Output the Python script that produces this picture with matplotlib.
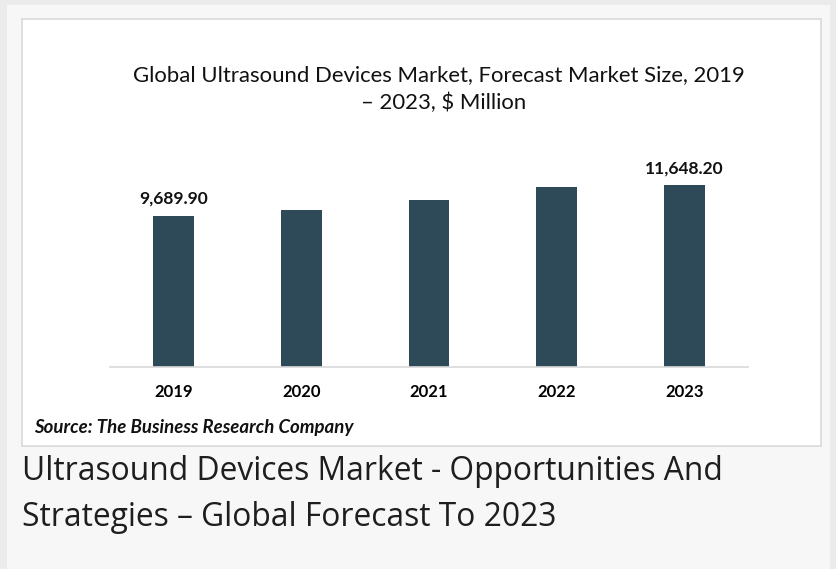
import matplotlib.pyplot as plt
from matplotlib.patches import Rectangle

# data ($ million)
years = ["2019", "2020", "2021", "2022", "2023"]
market_size = [9689.9, 10030.0, 10670.0, 11520.0, 11648.2]
labelled = {0: "9,689.90", 4: "11,648.20"}

W, H = 836, 569
DPI = 100
BAR_COLOR = "#2e4a59"
CHART_FONT = "Lato"
CAPTION_FONT = "Open Sans"


def fx(x):
    return x / W


def fy(y):
    return 1 - y / H


fig = plt.figure(figsize=(W / DPI, H / DPI), dpi=DPI)
fig.patch.set_facecolor("#ebebeb")

# page background and the white chart card
fig.patches.append(Rectangle((fx(7), fy(569)), fx(823), 564 / H,
                             transform=fig.transFigure, facecolor="#f7f7f7",
                             edgecolor="none", zorder=0))
fig.patches.append(Rectangle((fx(22), fy(446)), fx(799), 427 / H,
                             transform=fig.transFigure, facecolor="white",
                             edgecolor="#d9d9d9", linewidth=1.2, zorder=1))

# axes placed so that the baseline sits at y=367 px, 64 units per pixel
ymax = 14000
ax = fig.add_axes([fx(110), fy(367), fx(638), (ymax / 64) / H])
ax.set_zorder(3)
ax.set_facecolor("none")
ax.bar(range(len(years)), market_size, width=0.32, color=BAR_COLOR, zorder=2)
ax.set_xlim(-0.5, len(years) - 0.5)
ax.set_ylim(0, ymax)

for side in ["top", "right", "left"]:
    ax.spines[side].set_visible(False)
ax.spines["bottom"].set_color("#d9d9d9")
ax.spines["bottom"].set_linewidth(1.2)
ax.set_yticks([])
ax.set_xticks(range(len(years)))
ax.set_xticklabels(years, fontsize=12, fontweight="bold", family=CHART_FONT)
ax.tick_params(axis="x", length=0, pad=12)

for i, txt in labelled.items():
    ax.annotate(txt, (i, market_size[i]), xytext=(0, 12), textcoords="offset points",
                ha="center", va="center", fontsize=12.5, fontweight="bold",
                family=CHART_FONT, color="#111111")

# chart title, two centred lines as in the source
fig.text(fx(439), fy(75), "Global Ultrasound Devices Market, Forecast Market Size, 2019",
         ha="center", va="center", fontsize=15.9, family=CHART_FONT, color="#111111")
fig.text(fx(444), fy(103), "– 2023, $ Million",
         ha="center", va="center", fontsize=15.9, family=CHART_FONT, color="#111111")

fig.text(fx(34), fy(428), "Source: The Business Research Company", ha="left", va="center",
         fontsize=13.4, fontweight="bold", style="italic", family=CHART_FONT, color="#111111")

# caption under the card
fig.text(fx(22), fy(472), "Ultrasound Devices Market - Opportunities And", ha="left",
         va="center", fontsize=22.9, family=CAPTION_FONT, color="#1e1e1e")
fig.text(fx(22), fy(518), "Strategies – Global Forecast To 2023", ha="left",
         va="center", fontsize=22.9, family=CAPTION_FONT, color="#1e1e1e")

fig.savefig("out.png", dpi=DPI, facecolor=fig.get_facecolor())
